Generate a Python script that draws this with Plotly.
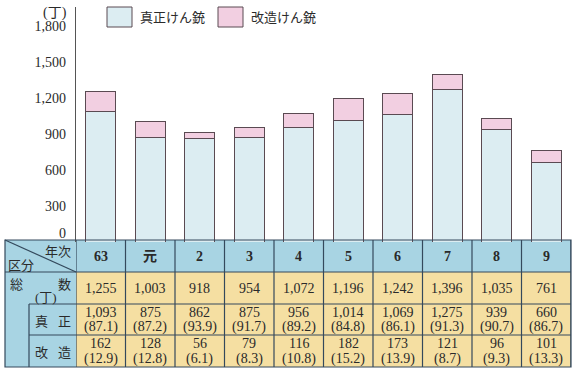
import plotly.graph_objects as go

years = ["63", "元", "2", "3", "4", "5", "6", "7", "8", "9"]
total = [1255, 1003, 918, 954, 1072, 1196, 1242, 1396, 1035, 761]
genuine = [1093, 875, 862, 875, 956, 1014, 1069, 1275, 939, 660]
genuine_pct = [87.1, 87.2, 93.9, 91.7, 89.2, 84.8, 86.1, 91.3, 90.7, 86.7]
modified = [162, 128, 56, 79, 116, 182, 173, 121, 96, 101]
modified_pct = [12.9, 12.8, 6.1, 8.3, 10.8, 15.2, 13.9, 8.7, 9.3, 13.3]
yticks = [300, 600, 900, 1200, 1500, 1800]

W, H = 576, 371
L, R, T, B = 76, 571, 7, 242   # plot area in pixels
PW, PH = R - L, B - T

SERIF = "Liberation Serif, Noto Sans CJK JP, serif"
CJK = "Noto Sans CJK JP, sans-serif"
BLUE_FILL = "#dcedf2"
PINK_FILL = "#f2cfe1"
EDGE = "#5a4a52"
TBL_BLUE = "#a8d4e3"
TBL_YEL = "#f5dfa2"
TBL_LINE = "#34495c"
TXT = "#2a2a2a"

def py(p):  # pixel y -> paper y
    return (B - p) / PH

def px(p):  # pixel x -> paper x
    return (p - L) / PW

fig = go.Figure()
fig.add_trace(go.Bar(x=years, y=genuine, name="真正けん銃", width=0.6,
                     marker=dict(color=BLUE_FILL, line=dict(color=EDGE, width=1))))
fig.add_trace(go.Bar(x=years, y=modified, name="改造けん銃", width=0.6,
                     marker=dict(color=PINK_FILL, line=dict(color=EDGE, width=1))))

shapes = []
ann = []

# table geometry (pixels)
tl, tr = 5, 571
r0, r1, r2, r3, r4 = 240, 272, 304, 335, 367
sub = 29
# backgrounds
shapes.append(dict(type="rect", xref="paper", yref="paper", x0=px(tl), x1=px(tr), y0=py(r0), y1=py(r1),
                   fillcolor=TBL_BLUE, line=dict(width=0), layer="below"))
shapes.append(dict(type="rect", xref="paper", yref="paper", x0=px(tl), x1=px(L), y0=py(r1), y1=py(r4),
                   fillcolor=TBL_BLUE, line=dict(width=0), layer="below"))
shapes.append(dict(type="rect", xref="paper", yref="paper", x0=px(L), x1=px(tr), y0=py(r1), y1=py(r4),
                   fillcolor=TBL_YEL, line=dict(width=0), layer="below"))
lw = 1.2
# outer border
shapes.append(dict(type="rect", xref="paper", yref="paper", x0=px(tl), x1=px(tr), y0=py(r0), y1=py(r4),
                   line=dict(color=TBL_LINE, width=lw)))
# horizontal lines
for yy, x0 in [(r1, tl), (r2, sub), (r3, sub)]:
    shapes.append(dict(type="line", xref="paper", yref="paper", x0=px(x0), x1=px(tr), y0=py(yy), y1=py(yy),
                       line=dict(color=TBL_LINE, width=lw)))
# sub-column line
shapes.append(dict(type="line", xref="paper", yref="paper", x0=px(sub), x1=px(sub), y0=py(r2), y1=py(r4),
                   line=dict(color=TBL_LINE, width=lw)))
# diagonal
shapes.append(dict(type="line", xref="paper", yref="paper", x0=px(tl), x1=px(L), y0=py(r0), y1=py(r1),
                   line=dict(color=TBL_LINE, width=lw)))
# column lines
for i in range(len(years) + 1):
    shapes.append(dict(type="line", xref="x", yref="paper", x0=i - 0.5, x1=i - 0.5, y0=py(r0), y1=py(r4),
                       line=dict(color=TBL_LINE, width=lw)))

def txt(x, y, s, xref="paper", size=14, font=SERIF, bold=False, xanchor="center"):
    ann.append(dict(x=x, y=y, xref=xref, yref="paper", text=("<b>%s</b>" % s) if bold else s,
                    showarrow=False, xanchor=xanchor, yanchor="middle",
                    font=dict(family=font, size=size, color=TXT)))

# row labels
txt(px(58), py(250), "年次", font=CJK, size=13)
txt(px(21), py(264), "区分", font=CJK, size=13)
txt(px(16), py(283), "総", font=CJK, size=13)
txt(px(64), py(283), "数", font=CJK, size=13)
txt(px(46), py(297), "(丁)", font=SERIF, size=13)
txt(px(41), py(320), "真", font=CJK, size=13)
txt(px(64), py(320), "正", font=CJK, size=13)
txt(px(41), py(351), "改", font=CJK, size=13)
txt(px(64), py(351), "造", font=CJK, size=13)

for i, yr in enumerate(years):
    txt(i, py(256), yr, xref="x", size=14, bold=True)
    txt(i, py(288), f"{total[i]:,}", xref="x", size=14)
    txt(i, py(312), f"{genuine[i]:,}", xref="x", size=14)
    txt(i, py(327), f"({genuine_pct[i]})", xref="x", size=14)
    txt(i, py(343), f"{modified[i]:,}", xref="x", size=14)
    txt(i, py(359), f"({modified_pct[i]})", xref="x", size=14)

# y-axis unit and zero label
txt(px(55), py(13), "(丁)", size=14)
txt(px(68), py(233), "0", size=14, xanchor="right")

# custom legend
for (x0, x1, col, label) in [(107, 132, BLUE_FILL, "真正けん銃"), (218, 243, PINK_FILL, "改造けん銃")]:
    shapes.append(dict(type="rect", xref="paper", yref="paper", x0=px(x0), x1=px(x1), y0=py(27), y1=py(7),
                       fillcolor=col, line=dict(color=EDGE, width=1)))
    txt(px(x1 + 6), py(17), label, font=CJK, size=13, xanchor="left")

fig.update_layout(
    width=W, height=H,
    margin=dict(l=L, r=W - R, t=T, b=H - B, pad=0),
    barmode="stack", bargap=0.4,
    showlegend=False,
    plot_bgcolor="white", paper_bgcolor="white",
    shapes=shapes, annotations=ann,
    xaxis=dict(type="category", range=[-0.5, 9.5], showticklabels=False, showgrid=False,
               zeroline=False, showline=False, ticks=""),
    yaxis=dict(range=[0, 1963], tickvals=yticks, ticktext=[f"{v:,}" for v in yticks],
               showgrid=False, zeroline=False, showline=True, linecolor="#555555", linewidth=1.2,
               ticks="", ticklabelstandoff=6,
               tickfont=dict(family=SERIF, size=14, color=TXT)),
)

fig.write_html("out.html", config={"displayModeBar": False},
               post_script="document.body.style.margin='0px';document.body.style.overflow='hidden';")
